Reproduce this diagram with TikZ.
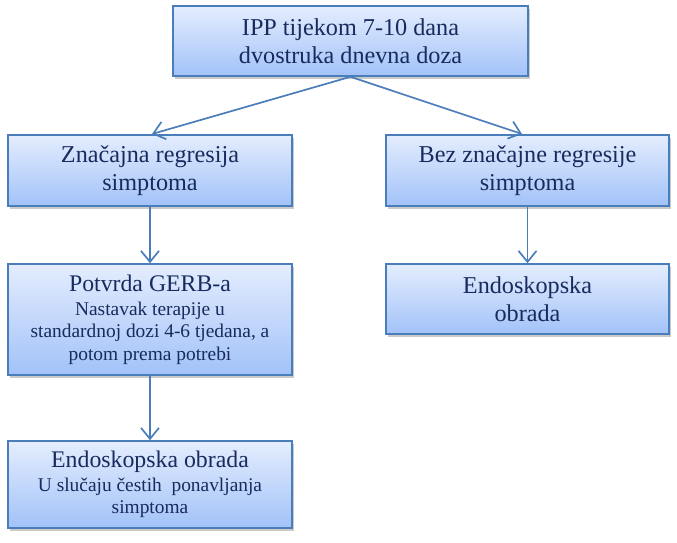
\documentclass[tikz,border=0pt]{standalone}
\usepackage{fontspec}
\setmainfont{Liberation Serif}
\usetikzlibrary{arrows.meta,shadows}
\definecolor{boxtop}{HTML}{E4EDFE}
\definecolor{boxbot}{HTML}{A2C2F8}
\definecolor{boxline}{HTML}{4A7EBB}
\definecolor{txt}{HTML}{172B5E}
\tikzset{
  fbox/.style={draw=boxline, line width=1.6pt, top color=boxtop, bottom color=boxbot,
    inner sep=0pt, align=center, text=txt,
    drop shadow={shadow xshift=2pt, shadow yshift=-3pt, opacity=0.35, fill=black!60}},
  big/.style={font=\fontsize{24.2}{28}\selectfont},
  small/.style={font=\fontsize{19.4}{22.5}\selectfont},
  conn/.style={draw=boxline, line width=1.7pt, -{Straight Barb[length=11pt,width=18pt,line width=1.7pt]}},
}
\newcommand{\headtxt}{\fontsize{23.8}{25}\selectfont}
\begin{document}
\begin{tikzpicture}[x=1pt,y=-1pt]
\useasboundingbox (0,0) rectangle (677,542);
\node[fbox,big,minimum width=355pt,minimum height=70pt] (top) at (350.5,41) {IPP tijekom 7-10 dana\\dvostruka dnevna doza};
\node[fbox,big,minimum width=284pt,minimum height=71pt] (sig) at (150,170.5) {Značajna regresija\\simptoma};
\node[fbox,big,minimum width=283pt,minimum height=71pt] (bez) at (527.5,170.5) {Bez značajne regresije\\simptoma};
\node[fbox,small,minimum width=284pt,minimum height=111pt] (pot) at (150,319.5) {{\headtxt Potvrda GERB-a}\\[1.5pt]Nastavak terapije u\\standardnoj dozi 4-6 tjedana, a\\potom prema potrebi};
\node[fbox,big,minimum width=283pt,minimum height=70pt] (endr) at (527.5,299) {Endoskopska\\obrada};
\node[fbox,small,minimum width=284pt,minimum height=87pt] (endl) at (150,484.5) {{\headtxt Endoskopska obrada}\\[1.5pt]U slučaju čestih\ \ ponavljanja\\simptoma};
\draw[conn] (top.south) -- (152,134);
\draw[conn] (top.south) -- (522,134);
\draw[conn] (sig.south) -- (pot.north);
\draw[conn] (bez.south) -- (endr.north);
\draw[conn] (pot.south) -- (endl.north);
\end{tikzpicture}
\end{document}
